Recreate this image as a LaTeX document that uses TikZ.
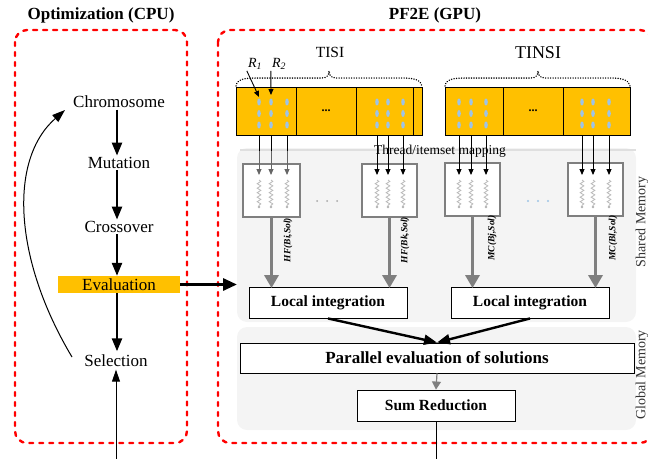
\documentclass[tikz,border=0pt]{standalone}
\usepackage{fontspec}
\setmainfont{Liberation Serif}
\usetikzlibrary{arrows.meta,decorations.pathmorphing,calc}
\definecolor{org}{HTML}{FFC000}
\definecolor{dotblue}{HTML}{9DC3E6}
\definecolor{panel}{HTML}{F4F4F4}
\definecolor{arrgray}{HTML}{7F7F7F}
\definecolor{redd}{HTML}{FF0000}
\begin{document}
\begin{tikzpicture}[x=1pt,y=-1pt,
  redbox/.style={draw=redd, line width=2.4pt, dash pattern=on 4pt off 6pt, line cap=round, rounded corners=12pt},
  lbl/.style={font=\fontsize{17}{20}\selectfont, inner sep=1.5pt},
  head/.style={font=\bfseries\fontsize{17}{20}\selectfont, inner sep=0pt},
  bigarr/.style={-{Triangle[length=13pt,width=10pt]}, line width=2.4pt},
  grayarr/.style={draw=arrgray, -{Triangle[length=13pt,width=14pt]}, line width=3.5pt},
  thinarr/.style={-{Triangle[length=6pt,width=5pt]}, line width=0.9pt},
  cell/.style={draw, line width=1pt, fill=org, minimum height=48pt, inner sep=0pt, font=\bfseries\fontsize{12}{12}\selectfont},
  thread/.style={draw=arrgray, line width=1.8pt, fill=white, minimum height=53pt, inner sep=0pt},
  wbox/.style={draw, line width=0.9pt, fill=white, minimum height=31pt, inner sep=0pt, font=\bfseries\fontsize{15.5}{18}\selectfont},
  mem/.style={fill=panel, rounded corners=10pt},
  memlbl/.style={rotate=90, font=\fontsize{14}{16}\selectfont, text=black!80, inner sep=0pt},
  vlbl/.style={rotate=90, font=\bfseries\itshape\fontsize{9.5}{11}\selectfont, inner sep=0pt},
  brace/.style={line width=1.5pt, dash pattern=on 0.1pt off 2.4pt, line cap=round},
  wave/.style={draw=gray!55, line width=0.8pt, decorate, decoration={snake, amplitude=1.8pt, segment length=4.5pt}},
  dotb/.style={fill=dotblue}
]
\useasboundingbox (0,0) rectangle (648,458);

% ---------- panels ----------
\fill[mem] (237,148) rectangle (636,322);
\fill[mem] (237,327) rectangle (636,430);
\draw[gray!25, line width=2.5pt] (240,150) -- (636,150);

% ---------- red dashed boxes ----------
\draw[redbox] (15,30) rectangle (187,443);
\draw[redbox] (218,30) rectangle (652,443);
\node[head] (hcpu) at (101,15) {Optimization (CPU)};
\node[head] (hgpu) at (435,15) {PF2E (GPU)};

% ---------- left column ----------
\node[lbl] (chrom) at (119,102) {Chromosome};
\node[lbl] (mut) at (119,163) {Mutation};
\node[lbl] (cross) at (119,227) {Crossover};
\node[lbl, fill=org, minimum width=122pt, minimum height=17pt, inner sep=0pt] (eval) at (119,284.5) {Evaluation};
\node[lbl] (sel) at (116,361) {Selection};
\draw[bigarr] (chrom.south -| 117,0) -- (mut.north -| 117,0);
\draw[bigarr] (mut.south -| 117,0) -- (cross.north -| 117,0);
\draw[bigarr] (cross.south -| 117,0) -- (eval.north -| 117,0);
\draw[bigarr] (eval.south -| 117,0) -- ([yshift=2pt]sel.north -| 117,0);
\coordinate (cs) at (72,357);
\coordinate (ce) at (65,110);
\draw[-{Triangle[length=13pt,width=9pt]}, line width=1pt] (cs) .. controls (14,260) and (8,160) .. (ce);

% ---------- TISI ----------
\node[cell, minimum width=60pt] (t1) at (266,111) {};
\node[cell, minimum width=60pt] (t2) at (326,111) {...};
\node[cell, minimum width=66pt] (t3) at (389,111) {};
\draw[line width=1pt] (413,87) -- (413,135);
\node[font=\fontsize{15.5}{17}\selectfont] (tisi) at (330,52) {TISI};
\draw[brace] (236,86) .. controls (237,79) and (245,78) .. (256,78) -- (322,78) .. controls (327,78) and (329,75) .. (329,71) .. controls (329,75) and (331,78) .. (336,78) -- (403,78) .. controls (414,78) and (421,80) .. (422,86);

% ---------- TINSI ----------
\node[cell, minimum width=58pt] (n1) at (474,111) {};
\node[cell, minimum width=60pt] (n2) at (533,111) {...};
\node[cell, minimum width=67pt] (n3) at (596.5,111) {};
\node[font=\fontsize{18}{20}\selectfont] (tinsi) at (538,53) {TINSI};
\draw[brace] (445,86) .. controls (446,79) and (454,78) .. (465,78) -- (531,78) .. controls (536,78) and (538,75) .. (538,71) .. controls (538,75) and (540,78) .. (545,78) -- (611,78) .. controls (622,78) and (629,80) .. (630,86);

% dots
\foreach \x in {259,271,287,377,388,403,459,471,486,582,593,609}
  \foreach \y in {102,113.5,125}
    \fill[dotb] (\x,\y) ellipse (1.8pt and 3.6pt);

% R labels
\node[font=\itshape\fontsize{14}{16}\selectfont, inner sep=0pt] (r1) at (255,64) {R\textsubscript{1}};
\node[font=\itshape\fontsize{14}{16}\selectfont, inner sep=0pt] (r2) at (279,64) {R\textsubscript{2}};
\draw[thinarr] ([yshift=-1pt]r1.south west) ++(-1,0) -- (259,97);
\draw[thinarr] ([yshift=-1pt]r2.south west) ++(-1,0) -- (271,95);

% ---------- thread boxes ----------
\node[thread, minimum width=57pt] (th1) at (271.5,190.5) {};
\node[thread, minimum width=55pt] (th2) at (389.5,190.5) {};
\node[thread, minimum width=55pt] (th3) at (472.5,189.5) {};
\node[thread, minimum width=55pt] (th4) at (595.5,189.5) {};

\foreach \x in {377,388,403,459,471,486,582,593,609}
  \draw[thinarr] (\x,135) -- (\x,175);
\foreach \x in {259,271,287}{
  \draw[line width=0.9pt] (\x,135) -- (\x,151);
  \draw[thinarr, draw=gray!80!black, fill=gray!80!black] (\x,151) -- (\x,175);}
\foreach \x in {259,271,287,377,388,403,459,471,486,582,593,609}{
  \draw[wave] (\x,180) -- (\x,206);
  \fill[gray!60] (\x,207) circle (1.3pt);}

\node[font=\fontsize{13.5}{15}\selectfont, inner sep=0pt] (tmap) at (440,151) {Thread/itemset mapping};

\foreach \x in {317,327,337} \fill[gray!70] (\x,201) circle (1pt);
\foreach \x in {528,538,548} \fill[dotblue] (\x,201) circle (1.2pt);

% ---------- local integration ----------
\node[wbox, minimum width=158pt] (li1) at (328,302.5) {Local integration};
\node[wbox, minimum width=158pt] (li2) at (530,302.5) {Local integration};

\draw[grayarr] (th1.south) -- ([yshift=-1.5pt]th1.south |- li1.north);
\draw[grayarr] (th2.south) -- ([yshift=-1.5pt]th2.south |- li1.north);
\draw[grayarr] (th3.south) -- ([yshift=-1.5pt]th3.south |- li2.north);
\draw[grayarr] (th4.south) -- ([yshift=-1.5pt]th4.south |- li2.north);

\node[vlbl] (lb1) at (288,240) {HF(Bi,Sol)};
\node[vlbl] (lb2) at (405,240) {HF(Bk,Sol)};
\node[vlbl] (lb3) at (492,238) {MC(Bj,Sol)};
\node[vlbl] (lb4) at (613,238) {MC(Bl,Sol)};

% ---------- global ----------
\node[wbox, minimum width=394pt, minimum height=30pt, font=\bfseries\fontsize{17}{20}\selectfont] (pe) at (437,358) {Parallel evaluation of solutions};
\node[wbox, minimum width=158pt] (sr) at (436,405.5) {Sum Reduction};
\draw[bigarr] (li1.south) -- (pe.north);
\draw[bigarr] (li2.south) -- (pe.north);
\draw[draw=arrgray, -{Triangle[length=8pt,width=9pt]}, fill=arrgray, line width=1.2pt] (pe.south) -- (sr.north);

\node[memlbl] (shm) at (642,222) {Shared Memory};
\node[memlbl] (glm) at (642,375) {Global Memory};

% ---------- connections ----------
\draw[bigarr, line width=3pt, -{Triangle[length=14pt,width=12pt]}] (eval.east) -- (237,284.5);
\coordinate (b1) at (436,459);
\coordinate (b2) at (116,459);
\draw[-{Triangle[length=12pt,width=8pt]}, line width=1pt] (sr.south) -- (b1) -- (b2) -- ([yshift=-1pt]sel.south);
\end{tikzpicture}
\end{document}
